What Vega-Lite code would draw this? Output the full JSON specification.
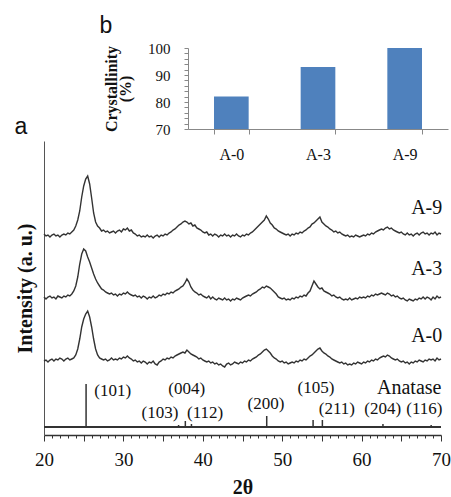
{
"$schema":"https://vega.github.io/schema/vega-lite/v6.json",
"background":"white",
"padding":{"left":14,"top":15,"right":0,"bottom":0},
"width":397,"height":294,
"title":{"text":"b","dx":85,"offset":-20,"baseline":"bottom"},
"config":{"view":{"stroke":null},"font":"Liberation Serif",
"title":{"font":"Liberation Sans","fontWeight":"normal","fontSize":23,"anchor":"start","frame":"bounds","color":"#111"},
"axis":{"labelFont":"Liberation Serif","titleFont":"Liberation Serif","labelColor":"#111","titleColor":"#111","grid":false}},
"datasets":{
"cryst":[{"sample":"A-0","crystallinity":82},{"sample":"A-3","crystallinity":93},{"sample":"A-9","crystallinity":100}],
"sticks":[{"x":25.3,"y":43},{"x":36.95,"y":2},{"x":37.8,"y":6},{"x":38.57,"y":3},{"x":48.05,"y":11},{"x":53.89,"y":7},{"x":55.06,"y":7},{"x":62.69,"y":3},{"x":68.76,"y":2}],
"hkl":[{"x":28.65,"y":36,"label":"(101)"},{"x":37.98,"y":38,"label":"(004)"},{"x":34.6,"y":14,"label":"(103)"},{"x":40.3,"y":14,"label":"(112)"},{"x":47.96,"y":23,"label":"(200)"},{"x":54.26,"y":39,"label":"(105)"},{"x":56.88,"y":18,"label":"(211)"},{"x":62.66,"y":18,"label":"(204)"},{"x":67.9,"y":18,"label":"(116)"}],
"names":[{"x":68.2,"y":219,"label":"A-9"},{"x":68.2,"y":158,"label":"A-3"},{"x":68.2,"y":91,"label":"A-0"},{"x":66.0,"y":39,"label":"Anatase"}],
"panel":[{"x":17.1,"y":293,"label":"a"}],
"a9":[{"x":20,"y":193},{"x":20.25,"y":191},{"x":20.5,"y":192},{"x":20.75,"y":190},{"x":21,"y":192},{"x":21.25,"y":193},{"x":21.5,"y":191},{"x":21.75,"y":192},{"x":22,"y":190},{"x":22.25,"y":192},{"x":22.5,"y":193},{"x":22.75,"y":192},{"x":23,"y":194},{"x":23.25,"y":193},{"x":23.5,"y":195},{"x":23.75,"y":197},{"x":24,"y":201},{"x":24.25,"y":207},{"x":24.5,"y":216},{"x":24.75,"y":230},{"x":25,"y":241},{"x":25.25,"y":248},{"x":25.5,"y":251},{"x":25.75,"y":243},{"x":26,"y":229},{"x":26.25,"y":214},{"x":26.5,"y":205},{"x":26.75,"y":201},{"x":27,"y":199},{"x":27.25,"y":196},{"x":27.5,"y":197},{"x":27.75,"y":195},{"x":28,"y":196},{"x":28.25,"y":194},{"x":28.5,"y":195},{"x":28.75,"y":196},{"x":29,"y":194},{"x":29.25,"y":196},{"x":29.5,"y":197},{"x":29.75,"y":195},{"x":30,"y":198},{"x":30.25,"y":197},{"x":30.5,"y":199},{"x":30.75,"y":196},{"x":31,"y":197},{"x":31.25,"y":194},{"x":31.5,"y":193},{"x":31.75,"y":191},{"x":32,"y":192},{"x":32.25,"y":190},{"x":32.5,"y":191},{"x":32.75,"y":190},{"x":33,"y":192},{"x":33.25,"y":190},{"x":33.5,"y":191},{"x":33.75,"y":189},{"x":34,"y":191},{"x":34.25,"y":192},{"x":34.5,"y":190},{"x":34.75,"y":192},{"x":35,"y":191},{"x":35.25,"y":193},{"x":35.5,"y":192},{"x":35.75,"y":194},{"x":36,"y":195},{"x":36.25,"y":197},{"x":36.5,"y":198},{"x":36.75,"y":200},{"x":37,"y":202},{"x":37.25,"y":203},{"x":37.5,"y":205},{"x":37.75,"y":206},{"x":38,"y":205},{"x":38.25,"y":203},{"x":38.5,"y":204},{"x":38.75,"y":201},{"x":39,"y":202},{"x":39.25,"y":199},{"x":39.5,"y":198},{"x":39.75,"y":197},{"x":40,"y":195},{"x":40.25,"y":194},{"x":40.5,"y":195},{"x":40.75,"y":192},{"x":41,"y":193},{"x":41.25,"y":191},{"x":41.5,"y":193},{"x":41.75,"y":192},{"x":42,"y":190},{"x":42.25,"y":192},{"x":42.5,"y":191},{"x":42.75,"y":193},{"x":43,"y":191},{"x":43.25,"y":192},{"x":43.5,"y":190},{"x":43.75,"y":192},{"x":44,"y":191},{"x":44.25,"y":193},{"x":44.5,"y":191},{"x":44.75,"y":190},{"x":45,"y":192},{"x":45.25,"y":191},{"x":45.5,"y":193},{"x":45.75,"y":192},{"x":46,"y":194},{"x":46.25,"y":195},{"x":46.5,"y":197},{"x":46.75,"y":199},{"x":47,"y":201},{"x":47.25,"y":203},{"x":47.5,"y":205},{"x":47.75,"y":207},{"x":48,"y":211},{"x":48.25,"y":208},{"x":48.5,"y":204},{"x":48.75,"y":202},{"x":49,"y":199},{"x":49.25,"y":198},{"x":49.5,"y":196},{"x":49.75,"y":195},{"x":50,"y":194},{"x":50.25,"y":193},{"x":50.5,"y":192},{"x":50.75,"y":193},{"x":51,"y":191},{"x":51.25,"y":193},{"x":51.5,"y":192},{"x":51.75,"y":194},{"x":52,"y":193},{"x":52.25,"y":195},{"x":52.5,"y":194},{"x":52.75,"y":196},{"x":53,"y":197},{"x":53.25,"y":199},{"x":53.5,"y":200},{"x":53.75,"y":203},{"x":54,"y":204},{"x":54.25,"y":206},{"x":54.5,"y":208},{"x":54.75,"y":210},{"x":55,"y":205},{"x":55.25,"y":203},{"x":55.5,"y":201},{"x":55.75,"y":200},{"x":56,"y":198},{"x":56.25,"y":197},{"x":56.5,"y":195},{"x":56.75,"y":196},{"x":57,"y":194},{"x":57.25,"y":195},{"x":57.5,"y":193},{"x":57.75,"y":192},{"x":58,"y":191},{"x":58.25,"y":192},{"x":58.5,"y":190},{"x":58.75,"y":191},{"x":59,"y":190},{"x":59.25,"y":192},{"x":59.5,"y":191},{"x":59.75,"y":190},{"x":60,"y":191},{"x":60.25,"y":192},{"x":60.5,"y":191},{"x":60.75,"y":193},{"x":61,"y":192},{"x":61.25,"y":194},{"x":61.5,"y":193},{"x":61.75,"y":195},{"x":62,"y":196},{"x":62.25,"y":197},{"x":62.5,"y":198},{"x":62.75,"y":197},{"x":63,"y":199},{"x":63.25,"y":200},{"x":63.5,"y":198},{"x":63.75,"y":199},{"x":64,"y":197},{"x":64.25,"y":196},{"x":64.5,"y":195},{"x":64.75,"y":194},{"x":65,"y":195},{"x":65.25,"y":193},{"x":65.5,"y":192},{"x":65.75,"y":194},{"x":66,"y":192},{"x":66.25,"y":193},{"x":66.5,"y":191},{"x":66.75,"y":193},{"x":67,"y":194},{"x":67.25,"y":192},{"x":67.5,"y":194},{"x":67.75,"y":195},{"x":68,"y":193},{"x":68.25,"y":194},{"x":68.5,"y":192},{"x":68.75,"y":194},{"x":69,"y":193},{"x":69.25,"y":195},{"x":69.5,"y":192},{"x":69.75,"y":194},{"x":70,"y":193}],
"a3":[{"x":20,"y":130},{"x":20.25,"y":128},{"x":20.5,"y":130},{"x":20.75,"y":131},{"x":21,"y":129},{"x":21.25,"y":130},{"x":21.5,"y":128},{"x":21.75,"y":131},{"x":22,"y":130},{"x":22.25,"y":129},{"x":22.5,"y":131},{"x":22.75,"y":130},{"x":23,"y":132},{"x":23.25,"y":131},{"x":23.5,"y":133},{"x":23.75,"y":136},{"x":24,"y":141},{"x":24.25,"y":150},{"x":24.5,"y":163},{"x":24.75,"y":173},{"x":25,"y":178},{"x":25.25,"y":176},{"x":25.5,"y":170},{"x":25.75,"y":165},{"x":26,"y":159},{"x":26.25,"y":153},{"x":26.5,"y":148},{"x":26.75,"y":144},{"x":27,"y":141},{"x":27.25,"y":138},{"x":27.5,"y":137},{"x":27.75,"y":135},{"x":28,"y":134},{"x":28.25,"y":133},{"x":28.5,"y":134},{"x":28.75,"y":132},{"x":29,"y":133},{"x":29.25,"y":131},{"x":29.5,"y":133},{"x":29.75,"y":132},{"x":30,"y":134},{"x":30.25,"y":133},{"x":30.5,"y":135},{"x":30.75,"y":133},{"x":31,"y":132},{"x":31.25,"y":131},{"x":31.5,"y":132},{"x":31.75,"y":130},{"x":32,"y":131},{"x":32.25,"y":129},{"x":32.5,"y":131},{"x":32.75,"y":130},{"x":33,"y":128},{"x":33.25,"y":130},{"x":33.5,"y":129},{"x":33.75,"y":131},{"x":34,"y":129},{"x":34.25,"y":130},{"x":34.5,"y":132},{"x":34.75,"y":131},{"x":35,"y":133},{"x":35.25,"y":132},{"x":35.5,"y":134},{"x":35.75,"y":133},{"x":36,"y":135},{"x":36.25,"y":134},{"x":36.5,"y":136},{"x":36.75,"y":137},{"x":37,"y":138},{"x":37.25,"y":140},{"x":37.5,"y":141},{"x":37.75,"y":144},{"x":38,"y":148},{"x":38.25,"y":145},{"x":38.5,"y":140},{"x":38.75,"y":137},{"x":39,"y":135},{"x":39.25,"y":134},{"x":39.5,"y":132},{"x":39.75,"y":133},{"x":40,"y":131},{"x":40.25,"y":130},{"x":40.5,"y":129},{"x":40.75,"y":131},{"x":41,"y":128},{"x":41.25,"y":130},{"x":41.5,"y":128},{"x":41.75,"y":127},{"x":42,"y":129},{"x":42.25,"y":128},{"x":42.5,"y":127},{"x":42.75,"y":129},{"x":43,"y":127},{"x":43.25,"y":128},{"x":43.5,"y":126},{"x":43.75,"y":128},{"x":44,"y":127},{"x":44.25,"y":129},{"x":44.5,"y":128},{"x":44.75,"y":127},{"x":45,"y":129},{"x":45.25,"y":130},{"x":45.5,"y":131},{"x":45.75,"y":132},{"x":46,"y":131},{"x":46.25,"y":133},{"x":46.5,"y":134},{"x":46.75,"y":135},{"x":47,"y":137},{"x":47.25,"y":138},{"x":47.5,"y":140},{"x":47.75,"y":139},{"x":48,"y":141},{"x":48.25,"y":140},{"x":48.5,"y":139},{"x":48.75,"y":137},{"x":49,"y":135},{"x":49.25,"y":133},{"x":49.5,"y":130},{"x":49.75,"y":129},{"x":50,"y":128},{"x":50.25,"y":129},{"x":50.5,"y":127},{"x":50.75,"y":128},{"x":51,"y":127},{"x":51.25,"y":129},{"x":51.5,"y":128},{"x":51.75,"y":130},{"x":52,"y":129},{"x":52.25,"y":131},{"x":52.5,"y":130},{"x":52.75,"y":132},{"x":53,"y":131},{"x":53.25,"y":134},{"x":53.5,"y":136},{"x":53.75,"y":141},{"x":54,"y":146},{"x":54.25,"y":143},{"x":54.5,"y":140},{"x":54.75,"y":138},{"x":55,"y":139},{"x":55.25,"y":136},{"x":55.5,"y":135},{"x":55.75,"y":134},{"x":56,"y":133},{"x":56.25,"y":131},{"x":56.5,"y":132},{"x":56.75,"y":130},{"x":57,"y":129},{"x":57.25,"y":130},{"x":57.5,"y":128},{"x":57.75,"y":127},{"x":58,"y":128},{"x":58.25,"y":127},{"x":58.5,"y":129},{"x":58.75,"y":127},{"x":59,"y":128},{"x":59.25,"y":129},{"x":59.5,"y":128},{"x":59.75,"y":130},{"x":60,"y":129},{"x":60.25,"y":130},{"x":60.5,"y":129},{"x":60.75,"y":131},{"x":61,"y":130},{"x":61.25,"y":132},{"x":61.5,"y":131},{"x":61.75,"y":133},{"x":62,"y":132},{"x":62.25,"y":133},{"x":62.5,"y":134},{"x":62.75,"y":133},{"x":63,"y":132},{"x":63.25,"y":134},{"x":63.5,"y":133},{"x":63.75,"y":131},{"x":64,"y":132},{"x":64.25,"y":130},{"x":64.5,"y":131},{"x":64.75,"y":129},{"x":65,"y":128},{"x":65.25,"y":129},{"x":65.5,"y":127},{"x":65.75,"y":126},{"x":66,"y":128},{"x":66.25,"y":127},{"x":66.5,"y":126},{"x":66.75,"y":128},{"x":67,"y":127},{"x":67.25,"y":129},{"x":67.5,"y":128},{"x":67.75,"y":130},{"x":68,"y":128},{"x":68.25,"y":130},{"x":68.5,"y":129},{"x":68.75,"y":127},{"x":69,"y":130},{"x":69.25,"y":128},{"x":69.5,"y":131},{"x":69.75,"y":129},{"x":70,"y":130}],
"a0":[{"x":20,"y":66},{"x":20.25,"y":67},{"x":20.5,"y":65},{"x":20.75,"y":67},{"x":21,"y":68},{"x":21.25,"y":66},{"x":21.5,"y":68},{"x":21.75,"y":67},{"x":22,"y":69},{"x":22.25,"y":68},{"x":22.5,"y":66},{"x":22.75,"y":68},{"x":23,"y":69},{"x":23.25,"y":67},{"x":23.5,"y":68},{"x":23.75,"y":69},{"x":24,"y":72},{"x":24.25,"y":78},{"x":24.5,"y":88},{"x":24.75,"y":100},{"x":25,"y":108},{"x":25.25,"y":113},{"x":25.5,"y":116},{"x":25.75,"y":110},{"x":26,"y":100},{"x":26.25,"y":88},{"x":26.5,"y":78},{"x":26.75,"y":72},{"x":27,"y":69},{"x":27.25,"y":68},{"x":27.5,"y":67},{"x":27.75,"y":68},{"x":28,"y":66},{"x":28.25,"y":67},{"x":28.5,"y":69},{"x":28.75,"y":67},{"x":29,"y":68},{"x":29.25,"y":67},{"x":29.5,"y":69},{"x":29.75,"y":68},{"x":30,"y":70},{"x":30.25,"y":69},{"x":30.5,"y":71},{"x":30.75,"y":69},{"x":31,"y":68},{"x":31.25,"y":66},{"x":31.5,"y":67},{"x":31.75,"y":65},{"x":32,"y":66},{"x":32.25,"y":64},{"x":32.5,"y":66},{"x":32.75,"y":65},{"x":33,"y":63},{"x":33.25,"y":65},{"x":33.5,"y":64},{"x":33.75,"y":66},{"x":34,"y":63},{"x":34.25,"y":62},{"x":34.5,"y":65},{"x":34.75,"y":66},{"x":35,"y":68},{"x":35.25,"y":67},{"x":35.5,"y":69},{"x":35.75,"y":68},{"x":36,"y":70},{"x":36.25,"y":69},{"x":36.5,"y":71},{"x":36.75,"y":72},{"x":37,"y":73},{"x":37.25,"y":74},{"x":37.5,"y":75},{"x":37.75,"y":74},{"x":38,"y":77},{"x":38.25,"y":75},{"x":38.5,"y":73},{"x":38.75,"y":72},{"x":39,"y":71},{"x":39.25,"y":70},{"x":39.5,"y":68},{"x":39.75,"y":69},{"x":40,"y":67},{"x":40.25,"y":66},{"x":40.5,"y":65},{"x":40.75,"y":66},{"x":41,"y":64},{"x":41.25,"y":65},{"x":41.5,"y":63},{"x":41.75,"y":64},{"x":42,"y":62},{"x":42.25,"y":63},{"x":42.5,"y":61},{"x":42.75,"y":60},{"x":43,"y":63},{"x":43.25,"y":64},{"x":43.5,"y":62},{"x":43.75,"y":63},{"x":44,"y":65},{"x":44.25,"y":64},{"x":44.5,"y":63},{"x":44.75,"y":65},{"x":45,"y":64},{"x":45.25,"y":66},{"x":45.5,"y":65},{"x":45.75,"y":67},{"x":46,"y":66},{"x":46.25,"y":68},{"x":46.5,"y":69},{"x":46.75,"y":70},{"x":47,"y":72},{"x":47.25,"y":73},{"x":47.5,"y":75},{"x":47.75,"y":77},{"x":48,"y":78},{"x":48.25,"y":76},{"x":48.5,"y":74},{"x":48.75,"y":71},{"x":49,"y":69},{"x":49.25,"y":68},{"x":49.5,"y":66},{"x":49.75,"y":65},{"x":50,"y":66},{"x":50.25,"y":64},{"x":50.5,"y":65},{"x":50.75,"y":63},{"x":51,"y":64},{"x":51.25,"y":65},{"x":51.5,"y":64},{"x":51.75,"y":66},{"x":52,"y":65},{"x":52.25,"y":67},{"x":52.5,"y":66},{"x":52.75,"y":68},{"x":53,"y":67},{"x":53.25,"y":69},{"x":53.5,"y":71},{"x":53.75,"y":72},{"x":54,"y":74},{"x":54.25,"y":76},{"x":54.5,"y":78},{"x":54.75,"y":79},{"x":55,"y":76},{"x":55.25,"y":74},{"x":55.5,"y":73},{"x":55.75,"y":71},{"x":56,"y":70},{"x":56.25,"y":68},{"x":56.5,"y":67},{"x":56.75,"y":66},{"x":57,"y":65},{"x":57.25,"y":64},{"x":57.5,"y":65},{"x":57.75,"y":63},{"x":58,"y":64},{"x":58.25,"y":62},{"x":58.5,"y":63},{"x":58.75,"y":62},{"x":59,"y":64},{"x":59.25,"y":63},{"x":59.5,"y":65},{"x":59.75,"y":64},{"x":60,"y":63},{"x":60.25,"y":65},{"x":60.5,"y":64},{"x":60.75,"y":66},{"x":61,"y":65},{"x":61.25,"y":67},{"x":61.5,"y":66},{"x":61.75,"y":68},{"x":62,"y":67},{"x":62.25,"y":69},{"x":62.5,"y":70},{"x":62.75,"y":71},{"x":63,"y":70},{"x":63.25,"y":72},{"x":63.5,"y":71},{"x":63.75,"y":69},{"x":64,"y":68},{"x":64.25,"y":67},{"x":64.5,"y":68},{"x":64.75,"y":66},{"x":65,"y":65},{"x":65.25,"y":66},{"x":65.5,"y":64},{"x":65.75,"y":65},{"x":66,"y":63},{"x":66.25,"y":65},{"x":66.5,"y":64},{"x":66.75,"y":66},{"x":67,"y":65},{"x":67.25,"y":67},{"x":67.5,"y":66},{"x":67.75,"y":65},{"x":68,"y":67},{"x":68.25,"y":66},{"x":68.5,"y":68},{"x":68.75,"y":67},{"x":69,"y":68},{"x":69.25,"y":66},{"x":69.5,"y":69},{"x":69.75,"y":67},{"x":70,"y":68}]
},
"resolve":{"scale":{"x":"independent","y":"independent"},"axis":{"x":"independent","y":"independent"}},
"layer":[
 {"data":{"name":"cryst"},
  "mark":{"type":"bar","color":"#4F81BD"},
  "encoding":{
   "x":{"field":"sample","type":"nominal","sort":null,"scale":{"range":[144,404],"paddingInner":0.6,"paddingOuter":0.3},
        "axis":{"orient":"bottom","offset":-306,"title":null,"labelAngle":0,"labelFontSize":16,"labelPadding":12,"tickBand":"extent","tickSize":5,"domainColor":"#888","tickColor":"#888"}},
   "y":{"field":"crystallinity","type":"quantitative","scale":{"domain":[70,100],"range":[-12,-93],"zero":false,"nice":false},
        "axis":{"orient":"left","offset":-144,"title":["Crystallinity","(%)"],"titleFontWeight":"bold","titleFontSize":16,"titleLineHeight":14,"titlePadding":14,
                "values":[70,72,74,76,78,80,82,84,86,88,90,92,94,96,98,100],
                "labelExpr":"datum.value % 10 === 0 ? datum.label : ''","labelOverlap":false,"labelFontSize":15,"tickSize":4,"labelPadding":14,"domainColor":"#888","tickColor":"#888"}},
   "y2":{"datum":70}
  }},
 {"encoding":{
  "x":{"field":"x","type":"quantitative","scale":{"domain":[20,70],"nice":false},
       "axis":{"orient":"bottom","title":"2θ","titleFontWeight":"bold","titleFontSize":20,"titlePadding":8,
               "values":[20,21,22,23,24,25,26,27,28,29,30,31,32,33,34,35,36,37,38,39,40,41,42,43,44,45,46,47,48,49,50,51,52,53,54,55,56,57,58,59,60,61,62,63,64,65,66,67,68,69,70],
               "labelExpr":"datum.value % 10 === 0 ? datum.label : ''","labelFlush":false,"labelOverlap":false,"labelFontSize":19,"labelPadding":9,
               "tickSize":{"condition":{"test":"datum.value % 5 === 0","value":6},"value":3},
               "domainColor":"#333","tickColor":"#333","domainWidth":1.3}},
  "y":{"field":"y","type":"quantitative","scale":{"domain":[-8,286],"nice":false,"zero":false},
       "axis":{"orient":"left","title":"Intensity (a. u.)","titleFontWeight":"bold","titleFontSize":20,"titlePadding":9,"ticks":false,"labels":false,"domainColor":"#555"}}
  },
  "layer":[
  {"data":{"values":[{"x":20,"x2":70,"y":0}]},"mark":{"type":"rule","color":"#333","strokeWidth":2},"encoding":{"x2":{"field":"x2"}}},
  {"data":{"name":"sticks"},"mark":{"type":"rule","color":"#333","strokeWidth":1.5},"encoding":{"y2":{"datum":0}}},
  {"data":{"name":"a9"},"mark":{"type":"line","color":"#333","strokeWidth":1.4},"encoding":{}},
  {"data":{"name":"a3"},"mark":{"type":"line","color":"#333","strokeWidth":1.4},"encoding":{}},
  {"data":{"name":"a0"},"mark":{"type":"line","color":"#333","strokeWidth":1.4},"encoding":{}},
  {"data":{"name":"hkl"},"mark":{"type":"text","fontSize":17,"color":"#111","font":"Liberation Serif"},"encoding":{"text":{"field":"label"}}},
  {"data":{"name":"names"},"mark":{"type":"text","fontSize":20,"color":"#111","font":"Liberation Serif"},"encoding":{"text":{"field":"label"}}},
  {"data":{"name":"panel"},"mark":{"type":"text","fontSize":23,"color":"#111","font":"Liberation Sans","baseline":"alphabetic"},"encoding":{"text":{"field":"label"}}}
 ]}
]
}
